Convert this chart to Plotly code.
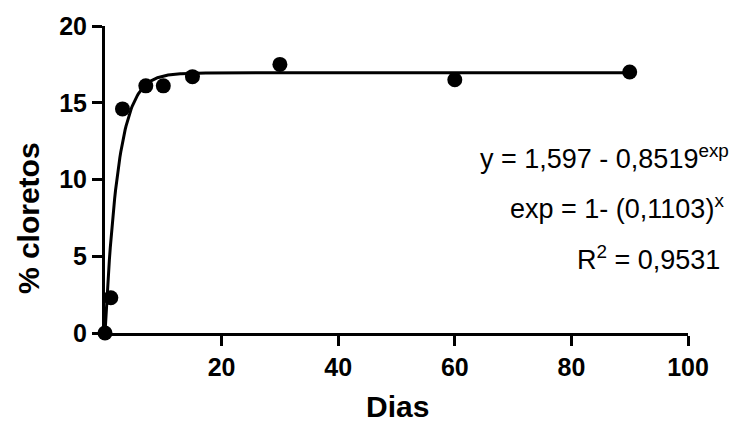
import numpy as np
import plotly.graph_objects as go

# Measured chloride percentage over time
dias = [0, 1, 3, 7, 10, 15, 30, 60, 90]
cloretos = [0.0, 2.3, 14.6, 16.1, 16.1, 16.7, 17.5, 16.5, 17.0]

# One-phase association fit parameters (plateau, rate constant per day)
plateau = 16.95
k_rate = 0.44

x_ticks = [20, 40, 60, 80, 100]
y_ticks = [0, 5, 10, 15, 20]

eq_lines = [
    "y = 1,597 - 0,8519<sup>exp</sup>",
    "exp = 1- (0,1103)<sup>x</sup>",
    "R<sup>2</sup> = 0,9531",
]

x_fit = np.linspace(0, max(dias), 600)
y_fit = plateau * (1 - np.exp(-k_rate * x_fit))

FONT = "Arial, Liberation Sans, sans-serif"

fig = go.Figure()
fig.add_trace(go.Scatter(
    x=x_fit, y=y_fit, mode="lines",
    line=dict(color="black", width=3),
    hoverinfo="skip", cliponaxis=False,
))
fig.add_trace(go.Scatter(
    x=dias, y=cloretos, mode="markers",
    marker=dict(color="black", size=15),
    cliponaxis=False,
))

W, H = 732, 423
ml, mr, mt, mb = 105, 44, 23, 90
pw, ph = W - ml - mr, H - mt - mb

fig.update_layout(
    width=W, height=H,
    margin=dict(l=ml, r=mr, t=mt, b=mb),
    paper_bgcolor="white", plot_bgcolor="white",
    showlegend=False,
    font=dict(family=FONT, color="black"),
    xaxis=dict(
        range=[0, 100], tickvals=x_ticks, ticktext=[str(v) for v in x_ticks],
        showgrid=False, zeroline=False, showline=True, linecolor="black", linewidth=3,
        ticks="outside", ticklen=10, tickwidth=3, tickcolor="black",
        tickfont=dict(family=FONT, size=25, color="black", weight="bold"),
    ),
    yaxis=dict(
        range=[0, 20], tickvals=y_ticks, ticktext=[str(v) for v in y_ticks],
        showgrid=False, zeroline=False, showline=True, linecolor="black", linewidth=3,
        ticks="outside", ticklen=10, tickwidth=3, tickcolor="black",
        tickfont=dict(family=FONT, size=25, color="black", weight="bold"),
    ),
)

# Convert page pixel positions into paper coordinates (relative to the plot area)
def px_x(p):
    return (p - ml) / pw

def px_y(p):
    return (H - mb - p) / ph

annotations = [
    dict(text="Dias", x=px_x(397), y=px_y(407), xref="paper", yref="paper",
         showarrow=False, xanchor="center", yanchor="middle",
         font=dict(family=FONT, size=30, color="black", weight="bold")),
    dict(text="% cloretos", x=px_x(28), y=px_y(217), xref="paper", yref="paper",
         showarrow=False, xanchor="center", yanchor="middle", textangle=-90,
         font=dict(family=FONT, size=30, color="black", weight="bold")),
]
eq_right = [731, 726, 722]
eq_center = [155, 206, 257]
for txt, xr, yc in zip(eq_lines, eq_right, eq_center):
    annotations.append(dict(
        text=txt, x=px_x(xr), y=px_y(yc), xref="paper", yref="paper",
        showarrow=False, xanchor="right", yanchor="middle",
        font=dict(family=FONT, size=27, color="black"),
    ))
fig.update_layout(annotations=annotations)

fig.write_html("out.html")
